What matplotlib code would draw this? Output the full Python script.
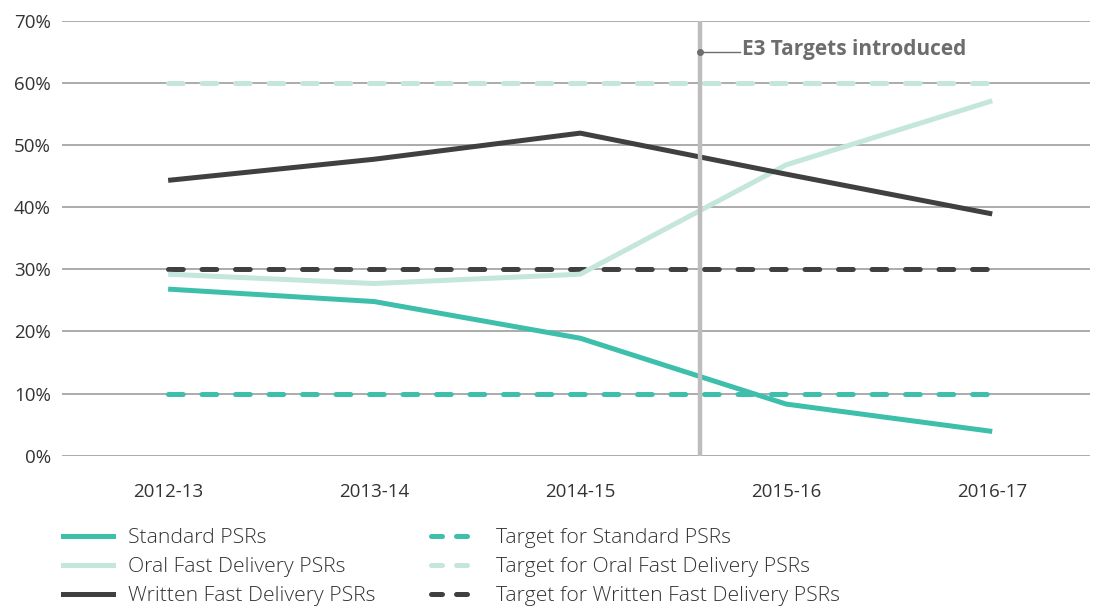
import matplotlib
matplotlib.use("Agg")
import matplotlib.pyplot as plt
from matplotlib.lines import Line2D

plt.rcParams['font.family'] = ['Open Sans', 'DejaVu Sans']

years = ["2012-13", "2013-14", "2014-15", "2015-16", "2016-17"]
standard = [26.8, 24.8, 18.9, 8.3, 3.9]
oral = [29.2, 27.7, 29.2, 46.8, 57.1]
written = [44.3, 47.7, 51.9, 45.3, 38.9]
target_standard = [10, 10, 10, 10, 10]
target_oral = [60, 60, 60, 60, 60]
target_written = [30, 30, 30, 30, 30]
yticks = [0, 10, 20, 30, 40, 50, 60, 70]
event_pos = 2.58
event_label = "E3 Targets introduced"

c_std = "#3dbfab"
c_oral = "#c4e6dc"
c_wr = "#404041"

fig = plt.figure(figsize=(10.98, 6.07), dpi=100)
ax = fig.add_axes([0.0565, 0.2493, 0.9365, 0.7167])

x = list(range(len(years)))
lw = 3.6
dpat = (2.95, 3.75)

ax.plot(x, target_oral, color=c_oral, lw=lw, dashes=dpat, dash_capstyle='round', zorder=3)
ax.plot(x, target_written, color=c_wr, lw=lw, dashes=dpat, dash_capstyle='round', zorder=3)
ax.plot(x, target_standard, color=c_std, lw=lw, dashes=dpat, dash_capstyle='round', zorder=3)
ax.plot(x, oral, color=c_oral, lw=lw, zorder=4, solid_capstyle='butt')
ax.plot(x, written, color=c_wr, lw=lw, zorder=4, solid_capstyle='butt')
ax.plot(x, standard, color=c_std, lw=lw, zorder=4, solid_capstyle='butt')

ax.axvline(event_pos, color="#bdbdbe", lw=3.2, zorder=5)
ax.plot([event_pos], [65], marker='o', ms=4, color="#6d6d6f", zorder=6)
ax.plot([event_pos, 2.775], [65, 65], color="#6d6d6f", lw=1, zorder=6)
ax.text(2.785, 65.3, event_label, fontsize=15, fontweight='bold', color="#6d6d6f",
        va='center', ha='left', zorder=6)

ax.set_xlim(-0.515, 4.476)
ax.set_ylim(0, 70)
ax.set_yticks(yticks)
ax.set_yticklabels([f"{v}%" for v in yticks])
ax.set_xticks(x)
ax.set_xticklabels(years)
ax.grid(axis='y', color="#9d9d9d", lw=1.2, zorder=1)
ax.set_axisbelow(True)
for s in ax.spines.values():
    s.set_visible(False)
ax.tick_params(axis='both', length=0, labelsize=13.5, colors="#333333")
ax.tick_params(axis='y', pad=8)
ax.tick_params(axis='x', pad=20)

hd = (2.2, 2.8)
handles = [
    Line2D([], [], color=c_std, lw=lw),
    Line2D([], [], color=c_oral, lw=lw),
    Line2D([], [], color=c_wr, lw=lw),
    Line2D([], [], color=c_std, lw=lw, dashes=hd, dash_capstyle='round'),
    Line2D([], [], color=c_oral, lw=lw, dashes=hd, dash_capstyle='round'),
    Line2D([], [], color=c_wr, lw=lw, dashes=hd, dash_capstyle='round'),
]
labels = ["Standard PSRs", "Oral Fast Delivery PSRs", "Written Fast Delivery PSRs",
          "Target for Standard PSRs", "Target for Oral Fast Delivery PSRs",
          "Target for Written Fast Delivery PSRs"]
leg = fig.legend(handles, labels, ncol=2, loc='lower left', bbox_to_anchor=(0.04, -0.03),
                 frameon=False, handlelength=2.35, handletextpad=0.75,
                 columnspacing=2.6, labelspacing=0.42,
                 prop={'size': 15.2, 'weight': 'light'})
for t in leg.get_texts():
    t.set_color("#333333")

fig.savefig("out.png", dpi=100)
